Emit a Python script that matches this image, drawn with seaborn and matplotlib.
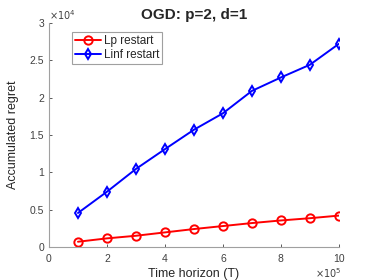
import numpy as np
import pandas as pd
import seaborn as sns
import matplotlib.pyplot as plt
from matplotlib.ticker import FuncFormatter

# dados
horizon = [1e5, 2e5, 3e5, 4e5, 5e5, 6e5, 7e5, 8e5, 9e5, 10e5]
lp_restart = [700, 1150, 1500, 1950, 2400, 2800, 3200, 3550, 3850, 4200]
linf_restart = [4550, 7400, 10450, 13100, 15700, 17900, 20900, 22700, 24400, 27200]
series_names = ["Lp restart", "Linf restart"]

df = pd.DataFrame({
    "T": horizon * 2,
    "regret": lp_restart + linf_restart,
    "method": [series_names[0]] * len(horizon) + [series_names[1]] * len(horizon),
})

sns.set_theme(style="ticks")
plt.rcParams['font.family'] = ['Liberation Sans', 'DejaVu Sans']

fig = plt.figure(figsize=(3.74, 2.8), dpi=100)
ax = fig.add_axes([0.131, 0.118, 0.775, 0.8])

sns.lineplot(
    data=df, x="T", y="regret", hue="method", style="method",
    palette={"Lp restart": "#ff0000", "Linf restart": "#0000ff"},
    markers={"Lp restart": "o", "Linf restart": "d"},
    dashes=False, linewidth=1.4, markersize=6,
    markerfacecolor="none", markeredgewidth=1.4, ax=ax,
)
for line in ax.lines:
    line.set_markeredgecolor(line.get_color())
    if line.get_marker() == "d":
        line.set_markersize(5.5)

ax.set_xlim(0, 1e6)
ax.set_ylim(0, 3e4)
ax.set_xticks(np.arange(0, 1e6 + 1, 2e5))
ax.set_yticks(np.arange(0, 3e4 + 1, 5e3))
ax.xaxis.set_major_formatter(FuncFormatter(lambda v, p: f"{v / 1e5:g}"))
ax.yaxis.set_major_formatter(FuncFormatter(lambda v, p: f"{v / 1e4:g}"))

gray = "#262626"
tick_c = "#404040"
ax.tick_params(labelsize=7.5, colors=tick_c, length=2.5, width=0.6, direction="in")
ax.tick_params(axis="x", pad=5)
for s in ["left", "bottom"]:
    ax.spines[s].set_color("#a0a0a0")
    ax.spines[s].set_linewidth(0.8)
sns.despine(ax=ax)

# multiplicadores no estilo MATLAB
ax.text(0.0, 1.005, r"$\times10^4$", transform=ax.transAxes, fontsize=7,
        color=tick_c, ha="left", va="bottom")
ax.text(1.01, -0.085, r"$\times10^5$", transform=ax.transAxes, fontsize=7,
        color=tick_c, ha="right", va="top")

ax.set_xlabel("Time horizon (T)", fontsize=9, color=gray, labelpad=3)
ax.set_ylabel("Accumulated regret", fontsize=9, color=gray, labelpad=8)
ax.set_title("OGD: p=2, d=1", fontsize=11, fontweight="bold", pad=3)

leg = ax.legend(loc="upper left", bbox_to_anchor=(0.06, 0.985), fontsize=8.5,
                frameon=True, fancybox=False, edgecolor="#a0a0a0", framealpha=1,
                handlelength=2.2, borderpad=0.25, labelspacing=0.15, handletextpad=0.2)
leg.get_frame().set_linewidth(0.8)

plt.savefig("out.png", dpi=100)
